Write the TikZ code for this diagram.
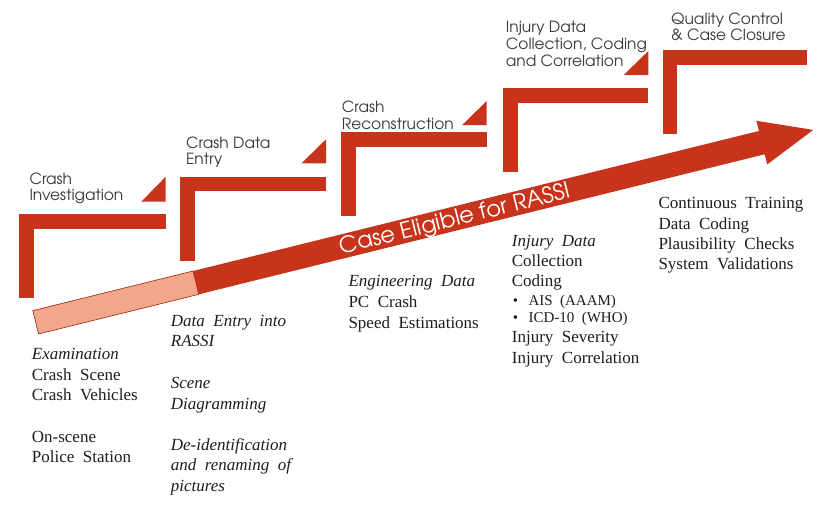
\documentclass[tikz,border=0pt]{standalone}
\usepackage{fontspec}
\setmainfont[WordSpace=2]{Liberation Serif}
\newfontfamily\gothic{TeX Gyre Adventor}
\definecolor{rred}{HTML}{C8341B}
\definecolor{salmon}{HTML}{F2A68C}
\definecolor{edgered}{HTML}{A82A14}
\definecolor{lblgray}{HTML}{3A3A3A}
\definecolor{txtblack}{HTML}{1E1E1E}
\begin{document}
\begin{tikzpicture}[x=1pt,y=-1pt,
  lbl/.style={font=\gothic\fontsize{15.4}{16}\selectfont, text=lblgray, anchor=base west, inner sep=0pt},
  body/.style={font=\fontsize{17}{20}\selectfont, text=txtblack, anchor=base west, inner sep=0pt},
  smallbody/.style={font=\fontsize{15}{18}\selectfont, text=txtblack, anchor=base west, inner sep=0pt}]
\useasboundingbox[fill=white] (0,0) rectangle (840,507);

% staircase steps
\foreach \x/\t/\r in {19.3/214.3/165.7, 180/176.7/326, 341/132/486.7, 503.3/88/648.3, 662.7/50/806.7} {
  \fill[rred] (\x,\t) rectangle (\x+14.5,\t+84);
  \fill[rred] (\x,\t) rectangle (\r,\t+14.5);
}
% small triangles
\foreach \b/\tp/\r in {201.7/176.7/165.7, 163.3/139.3/326, 125/101/486.7, 75/51/648.3} {
  \fill[rred] (\r-24.5,\b) -- (\r,\b) -- (\r,\tp) -- cycle;
}

% big arrow
\begin{scope}[shift={(35.7,322.3)}, rotate=13.9]
  \fill[rred] (0,-12) -- (748,-12) -- (748,-22.5) -- (801,0) -- (748,22.5) -- (748,12) -- (0,12) -- cycle;
  \filldraw[fill=salmon, draw=edgered, line width=0.6pt] (0,-12) rectangle (165,12);
  \node[rotate=13.9, anchor=base, text=white, font=\gothic\fontsize{22.5}{22}\selectfont, inner sep=0pt] (arrowtxt) at (431.5,7.5) {Case Eligible for RASSI};
\end{scope}

% step labels
\foreach \s/\y [count=\i] in {Crash/184, Investigation/200.3}
  \node[lbl] (la-\i) at (29.3,\y) {\s};
\foreach \s/\y [count=\i] in {Crash Data/148.3, Entry/164.5}
  \node[lbl] (lb-\i) at (186,\y) {\s};
\foreach \s/\y [count=\i] in {Crash/112.3, Reconstruction/129}
  \node[lbl] (lc-\i) at (341.7,\y) {\s};
\foreach \s/\y [count=\i] in {Injury Data/32.7, {Collection, Coding}/49.3, and Correlation/66}
  \node[lbl] (ld-\i) at (505.7,\y) {\s};
\foreach \s/\y [count=\i] in {Quality Control/24, \& Case Closure/40}
  \node[lbl] (le-\i) at (671,\y) {\s};

% text blocks
\foreach \s/\y [count=\i] in {\textit{Examination}/359.3, Crash Scene/380, Crash Vehicles/400.5, On-scene/442.3, Police Station/462.7}
  \node[body] (ba-\i) at (31.7,\y) {\s};
\foreach \s/\y [count=\i] in {Data Entry into/326, RASSI/346.7, Scene/388.3, Diagramming/409, De-identification/450.7, and renaming of/470.7, pictures/491}
  \node[body, font=\fontsize{17}{20}\selectfont\itshape] (bb-\i) at (170.7,\y) {\s};
\foreach \s/\y [count=\i] in {\textit{Engineering Data}/286.7, PC Crash/307.3, Speed Estimations/328}
  \node[body] (bc-\i) at (348.3,\y) {\s};
\foreach \s/\y [count=\i] in {\textit{Injury Data}/246, Collection/266, Coding/286.7, Injury Severity/342.7, Injury Correlation/363.3}
  \node[body] (bd-\i) at (511.7,\y) {\s};
\foreach \s/\y [count=\i] in {AIS (AAAM)/305, ICD-10 (WHO)/322.7} {
  \node[smallbody] (bdb-\i) at (512.7,\y) {\textbullet};
  \node[smallbody] (bdt-\i) at (528.3,\y) {\s};
}
\foreach \s/\y [count=\i] in {Continuous Training/208.3, Data Coding/229, Plausibility Checks/249.3, System Validations/269.3}
  \node[body] (be-\i) at (658.3,\y) {\s};
\end{tikzpicture}
\end{document}
